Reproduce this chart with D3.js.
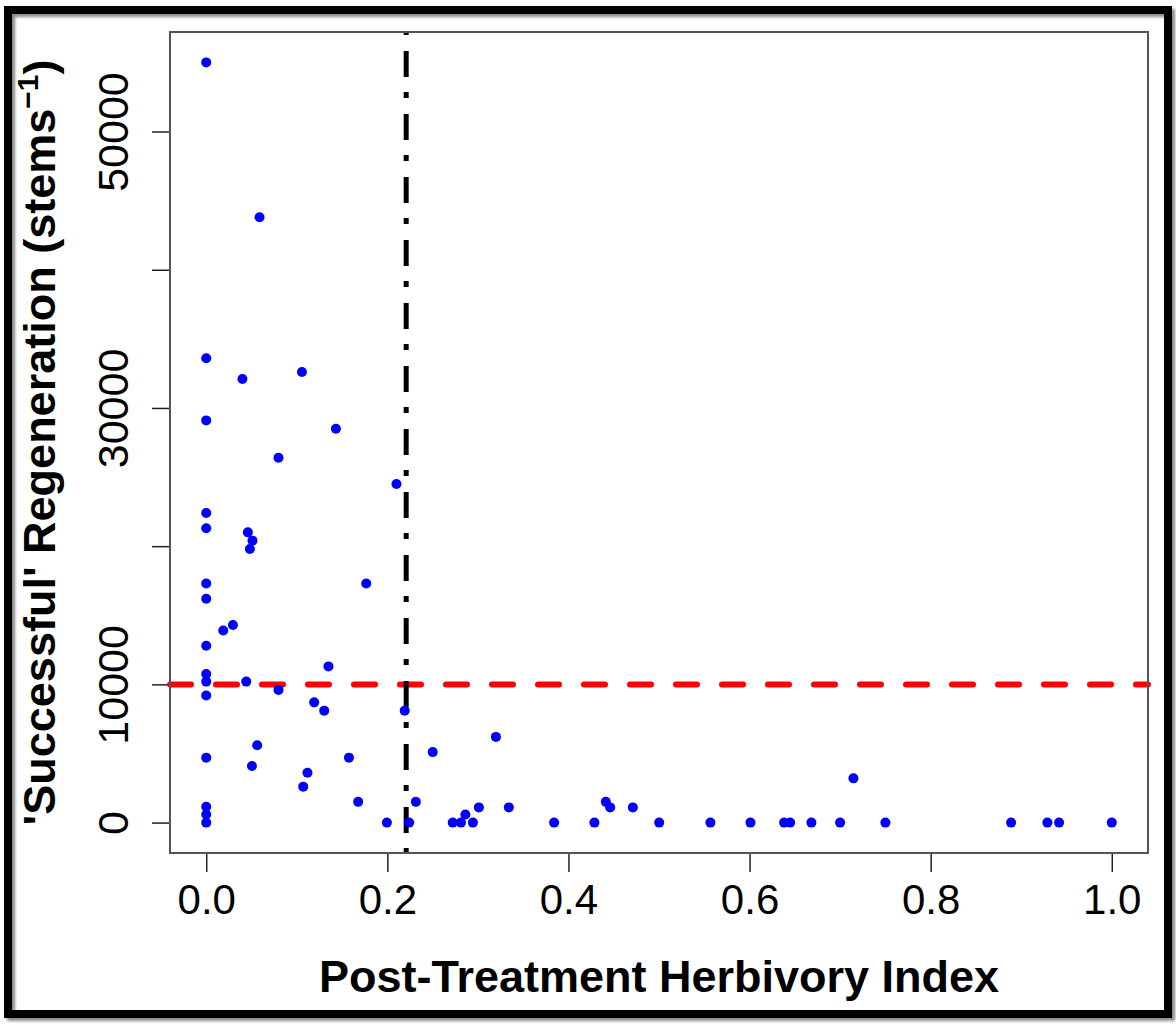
<!DOCTYPE html>
<html>
<head>
<meta charset="utf-8">
<script src="https://cdn.jsdelivr.net/npm/d3@7"></script>
<style>
  body { margin: 0; background: #fff; }
  svg { display: block; font-family: "Liberation Sans", Arial, sans-serif; }
</style>
</head>
<body>
<svg id="chart" width="1176" height="1024"></svg>
<script>
// herbivory index (x) and successful regeneration, stems (y)
const herbivory = [
  0, 0.0589, 0, 0.040, 0.1057, 0, 0.1432, 0.0798, 0.2101, 0, 0, 0.046, 0.0511, 0.0482,
  0.1767, 0, 0, 0.0295, 0.0188, 0, 0.135, 0, 0, 0.0442, 0, 0.0798, 0.1192, 0.1303,
  0.2192, 0.3199, 0.0563, 0, 0.2501, 0.1576, 0.0505, 0.1118, 0.1071, 0.1678, 0.2315,
  0, 0, 0, 0.1995, 0.2241, 0.2722, 0.2813, 0.2862, 0.2945, 0.3011, 0.3342, 0.3842,
  0.4287, 0.4413, 0.4461, 0.4711, 0.5002, 0.5568, 0.601, 0.6382, 0.6448, 0.6683, 0.70,
  0.7147, 0.75, 0.8888, 0.9289, 0.9418, 1.0
];
const regeneration = [
  55000, 43800, 33600, 32100, 32600, 29100, 28500, 26400, 24500, 22400, 21300, 21000, 20400, 19800,
  17300, 17300, 16200, 14300, 13900, 12800, 11300, 10750, 10200, 10200, 9200, 9600, 8700, 8100,
  8100, 6200, 5600, 4700, 5100, 4700, 4100, 3600, 2600, 1500, 1500,
  1150, 580, 0, 0, 0, 0, 0, 580, 0, 1100, 1100, 0,
  0, 1500, 1100, 1100, 0, 0, 0, 0, 0, 0, 0,
  3200, 0, 0, 0, 0, 0
];

const xTicks = [0, 0.2, 0.4, 0.6, 0.8, 1.0];
const xTickLabels = ["0.0", "0.2", "0.4", "0.6", "0.8", "1.0"];
const yTicks = [0, 10000, 20000, 30000, 40000, 50000];
const yTickLabels = ["0", "10000", "", "30000", "", "50000"];

const successThreshold = 10000;
const herbivoryThreshold = 0.2208;

const svg = d3.select("#chart");
const W = 1176, H = 1024;
const box = { left: 170, top: 32, right: 1148, bottom: 853 };

const x = d3.scaleLinear().domain([-0.04, 1.04]).range([box.left, box.right]);
const y = d3.scaleLinear().domain([-2200, 57200]).range([box.bottom, box.top]);

svg.append("rect").attr("width", W).attr("height", H).attr("fill", "#fff");

// outer frame with a soft shadow
const defs = svg.append("defs");
defs.append("filter").attr("id", "blur")
  .append("feGaussianBlur").attr("stdDeviation", 1.5);
svg.append("rect")
  .attr("x", 11).attr("y", 13).attr("width", 1160).attr("height", 1004)
  .attr("fill", "none").attr("stroke", "#8a8a8a").attr("stroke-width", 8)
  .attr("filter", "url(#blur)");
svg.append("rect")
  .attr("x", 8).attr("y", 10).attr("width", 1160).attr("height", 1004)
  .attr("fill", "none").attr("stroke", "#000").attr("stroke-width", 8);

// axes
const xAxis = svg.append("g")
  .attr("transform", `translate(0,${box.bottom})`)
  .call(d3.axisBottom(x).tickValues(xTicks).tickSize(19).tickPadding(12)
    .tickFormat((d, i) => xTickLabels[i]));
xAxis.select(".domain").remove();
xAxis.selectAll("line").attr("stroke", "#222").attr("stroke-width", 1.5);
xAxis.selectAll("text")
  .attr("font-size", 42).attr("fill", "#000")
  .attr("font-family", "Liberation Sans, Arial, sans-serif");

const yAxis = svg.append("g")
  .attr("transform", `translate(${box.left},0)`)
  .call(d3.axisLeft(y).tickValues(yTicks).tickSize(18)
    .tickFormat((d, i) => yTickLabels[i]));
yAxis.select(".domain").remove();
yAxis.selectAll("line").attr("stroke", "#222").attr("stroke-width", 1.5);
yAxis.selectAll("text")
  .attr("x", null).attr("dy", null)
  .attr("transform", "translate(-42,0) rotate(-90)")
  .attr("text-anchor", "middle")
  .attr("font-size", 43).attr("fill", "#000")
  .attr("font-family", "Liberation Sans, Arial, sans-serif");

// reference lines
svg.append("line")
  .attr("x1", box.left).attr("x2", box.right)
  .attr("y1", y(successThreshold)).attr("y2", y(successThreshold))
  .attr("stroke", "#ff0000").attr("stroke-width", 6)
  .attr("stroke-linecap", "round").attr("stroke-dasharray", "21,25");

svg.append("line")
  .attr("x1", x(herbivoryThreshold)).attr("x2", x(herbivoryThreshold))
  .attr("y1", box.top).attr("y2", box.bottom)
  .attr("stroke", "#000").attr("stroke-width", 5)
  .attr("stroke-dasharray", "26,15,6,16")
  .attr("stroke-dashoffset", 44);

// points
svg.append("g").selectAll("circle")
  .data(herbivory.map((h, i) => ({ h, r: regeneration[i] })))
  .join("circle")
  .attr("cx", d => x(d.h))
  .attr("cy", d => y(d.r))
  .attr("r", 5)
  .attr("fill", "#0000ff");

// plot box
svg.append("rect")
  .attr("x", box.left).attr("y", box.top)
  .attr("width", box.right - box.left).attr("height", box.bottom - box.top)
  .attr("fill", "none").attr("stroke", "#555").attr("stroke-width", 2);

// titles
svg.append("text")
  .attr("x", (box.left + box.right) / 2).attr("y", 992)
  .attr("text-anchor", "middle")
  .attr("font-size", 45).attr("font-weight", "bold")
  .text("Post-Treatment Herbivory Index");

const yTitle = svg.append("text")
  .attr("transform", `translate(55,${(box.top + box.bottom) / 2}) rotate(-90)`)
  .attr("text-anchor", "middle")
  .attr("font-size", 45).attr("font-weight", "bold");
yTitle.append("tspan").text("'Successful' Regeneration (stems");
yTitle.append("tspan").attr("dy", -17).attr("font-size", 30).text("\u22121");
yTitle.append("tspan").attr("dy", 17).text(")");
</script>
</body>
</html>
